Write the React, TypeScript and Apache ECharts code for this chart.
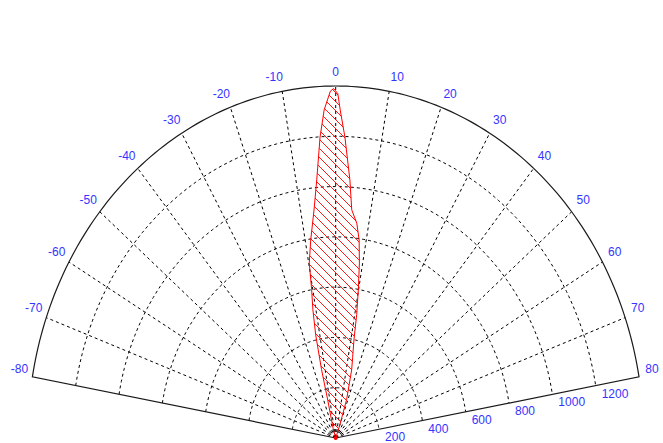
import React, { useEffect, useRef } from "react";
import * as echarts from "echarts";

// ---- data ----
const angleTicks = [-80, -70, -60, -50, -40, -30, -20, -10, 0, 10, 20, 30, 40, 50, 60, 70, 80];
const radiusTicks = [200, 400, 600, 800, 1000, 1200];
const radiusMax = 1400;
const sectorEdge = 80;

// lobe outline (degrees, radius), traced from the origin round the left side, the tip and the right side
const lobeAngles = [0, -17, -13.5, -13.3, -12.5, -11.5, -10.5, -9.8, -8.2, -6.2, -4.8, -3.4, -2.3, -1.0, -0.4, 0.4, 0.9, 2.0, 3.6, 4.6, 6.4, 7.7, 8.8, 9.9, 11, 12, 13.5, 15, 18, 20];
const lobeRadii = [0, 40, 155, 280, 420, 520, 600, 706, 796, 912, 1030, 1199, 1306, 1380, 1390, 1370, 1305, 1198, 1028, 910, 860, 795, 704, 598, 500, 399, 330, 280, 160, 50];

const FONT = "'Liberation Sans', Arial, sans-serif";
const BLUE = "#3434ff";
const RED = "#ff0000";

const rad = (d: number) => (d * Math.PI) / 180;
const xy = (a: number, r: number) => [r * Math.sin(rad(a)), r * Math.cos(rad(a))];

export default function App() {
  const ref = useRef<HTMLDivElement>(null);

  useEffect(() => {
    if (!ref.current) return;
    const chart = echarts.init(ref.current, undefined, { renderer: "svg" });

    const option: any = {
      animation: false,
      backgroundColor: "#ffffff",
      grid: { left: 27.7, top: 86, width: 616, height: 352 },
      xAxis: { type: "value", min: -radiusMax, max: radiusMax, show: false },
      yAxis: { type: "value", min: 0, max: radiusMax, show: false },
      series: [
        // dashed range circles
        {
          type: "custom",
          coordinateSystem: "cartesian2d",
          silent: true,
          z: 1,
          data: radiusTicks.map((r) => [r, 0]),
          renderItem: (params: any, api: any) => {
            const r = api.value(0);
            const pts: number[][] = [];
            for (let a = -sectorEdge; a <= sectorEdge; a += 1) pts.push(api.coord(xy(a, r)));
            return {
              type: "polyline",
              shape: { points: pts },
              style: { stroke: "#000", lineWidth: 1, lineDash: [3, 3], fill: null },
            };
          },
        },
        // radial lines + angle labels
        {
          type: "custom",
          coordinateSystem: "cartesian2d",
          silent: true,
          z: 2,
          data: angleTicks.map((a) => [a, 0]),
          renderItem: (params: any, api: any) => {
            const a = api.value(0);
            const o = api.coord([0, 0]);
            const p = api.coord(xy(a, radiusMax));
            const edge = Math.abs(a) === sectorEdge;
            const s = Math.sign(a);
            const dx = s * (7 + 6 * Math.abs(Math.sin(rad(a))));
            const dy = -(7 + 7 * Math.cos(rad(a)));
            const children: any[] = [];
            if (!edge) {
              children.push({
                type: "line",
                shape: { x1: o[0], y1: o[1], x2: p[0], y2: p[1] },
                style: { stroke: "#000", lineWidth: 1, lineDash: [3, 3] },
              });
            }
            children.push({
              type: "text",
              x: p[0] + dx,
              y: p[1] + dy,
              style: {
                text: String(a),
                fill: BLUE,
                font: `12px ${FONT}`,
                align: "center",
                verticalAlign: "middle",
              },
            });
            return { type: "group", children };
          },
        },
        // outer boundary
        {
          type: "custom",
          coordinateSystem: "cartesian2d",
          silent: true,
          z: 3,
          data: [[radiusMax, 0]],
          renderItem: (params: any, api: any) => {
            const r = api.value(0);
            const pts: number[][] = [api.coord([0, 0])];
            for (let a = -sectorEdge; a <= sectorEdge; a += 1) pts.push(api.coord(xy(a, r)));
            pts.push(api.coord([0, 0]));
            return {
              type: "polyline",
              shape: { points: pts },
              style: { stroke: "#1a1a1a", lineWidth: 1.2, fill: null },
            };
          },
        },
        // range labels along the 80° edge
        {
          type: "custom",
          coordinateSystem: "cartesian2d",
          silent: true,
          z: 3,
          data: radiusTicks.map((r) => [r, 0]),
          renderItem: (params: any, api: any) => {
            const r = api.value(0);
            const p = api.coord(xy(sectorEdge, r));
            return {
              type: "text",
              x: p[0] + 6,
              y: p[1] + 2,
              style: {
                text: String(r),
                fill: BLUE,
                font: `12px ${FONT}`,
                align: "left",
                verticalAlign: "top",
              },
            };
          },
        },
        // hatched lobe
        {
          type: "custom",
          coordinateSystem: "cartesian2d",
          silent: true,
          z: 5,
          data: [[0, 0]],
          renderItem: (params: any, api: any) => {
            const pts: number[][] = lobeAngles.map((a, i) => api.coord(xy(a, lobeRadii[i])));
            const children: any[] = [];
            const cs = pts.map((p) => p[1] - p[0]);
            const cmin = Math.min(...cs);
            const cmax = Math.max(...cs);
            const step = 9;
            for (let c = Math.ceil(cmin / step) * step; c <= cmax; c += step) {
              const inter: number[][] = [];
              for (let i = 0; i < pts.length; i++) {
                const p = pts[i];
                const q = pts[(i + 1) % pts.length];
                const fp = p[1] - p[0] - c;
                const fq = q[1] - q[0] - c;
                if (fp < 0 !== fq < 0) {
                  const t = fp / (fp - fq);
                  inter.push([p[0] + t * (q[0] - p[0]), p[1] + t * (q[1] - p[1])]);
                }
              }
              inter.sort((u, v) => u[0] - v[0]);
              for (let k = 0; k + 1 < inter.length; k += 2) {
                children.push({
                  type: "line",
                  shape: { x1: inter[k][0], y1: inter[k][1], x2: inter[k + 1][0], y2: inter[k + 1][1] },
                  style: { stroke: RED, lineWidth: 0.9 },
                });
              }
            }
            children.push({
              type: "polygon",
              shape: { points: pts },
              style: { fill: "rgba(0,0,0,0)", stroke: RED, lineWidth: 1 },
            });
            const o = api.coord([0, 0]);
            children.push({
              type: "circle",
              shape: { cx: o[0], cy: o[1], r: 2 },
              style: { fill: RED },
            });
            return { type: "group", children };
          },
        },
      ],
    };

    chart.setOption(option);
    return () => chart.dispose();
  }, []);

  return (
    <div
      ref={ref}
      style={{ position: "fixed", left: 0, top: 0, width: 663, height: 443, background: "#fff" }}
    />
  );
}
